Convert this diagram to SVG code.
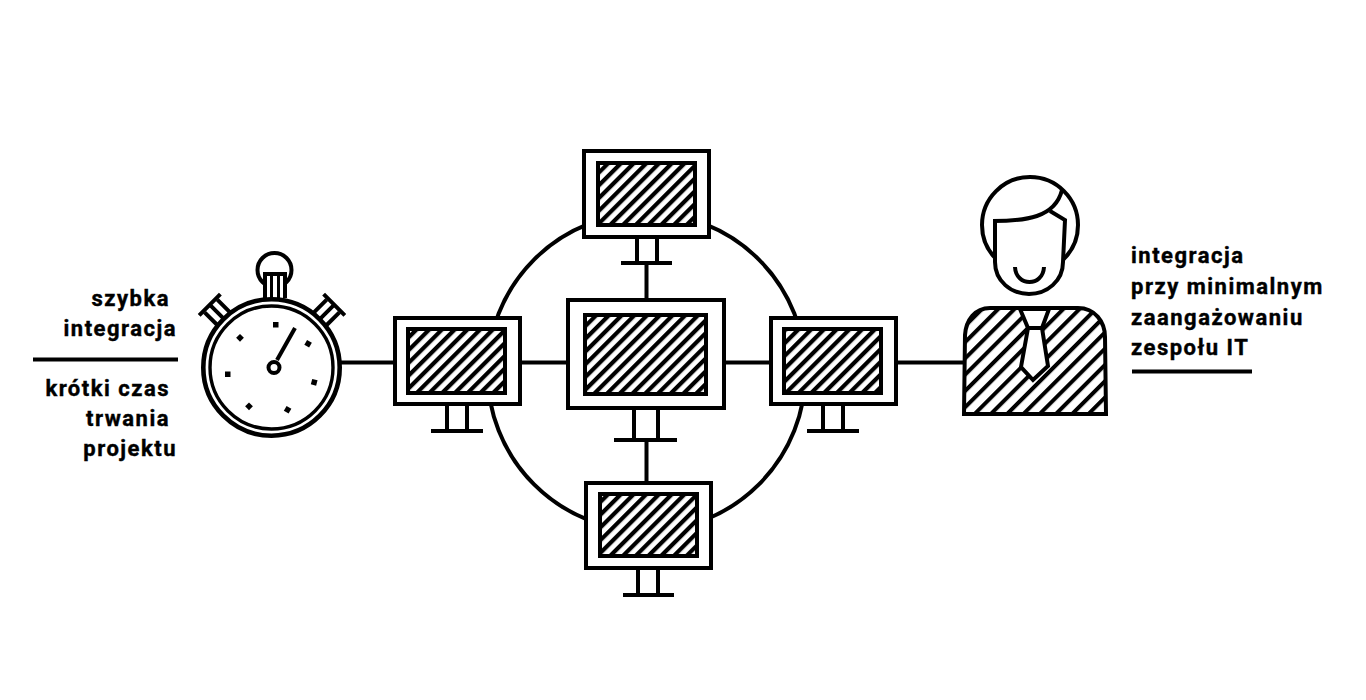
<svg xmlns="http://www.w3.org/2000/svg" width="1366" height="700" viewBox="0 0 1366 700">
<style>
.l{fill:none;stroke:#000;stroke-width:4}
.w{fill:#fff;stroke:#000;stroke-width:4}
.h{fill:url(#hatch);stroke:#000;stroke-width:4}
.t{font-family:"Roboto","Liberation Sans",sans-serif;font-weight:700;font-size:22px;letter-spacing:1.500px;fill:#000;stroke:#000;stroke-width:.4}
.e{text-anchor:end}
.k{fill:#000}
</style>
<defs>
<pattern id="hatch" width="9" height="9" patternUnits="userSpaceOnUse" patternTransform="translate(4.900 0) rotate(45)"><rect width="9" height="9" fill="#fff"/><rect width="4.200" height="9" fill="#000"/></pattern>
<pattern id="hatch2" width="11.500" height="11.500" patternUnits="userSpaceOnUse" patternTransform="translate(3.400 0) rotate(45)"><rect width="11.500" height="11.500" fill="#fff"/><rect width="4" height="11.500" fill="#000"/></pattern>
</defs>
<g id="connectors">
<circle class="l" cx="646.500" cy="372" r="159"/>
<path class="l" d="M341 362.500H393M521 362.500H568M725 362.500H769M897 362.500H963M646.500 263V298M646.500 440V481"/>
</g>
<g id="monitor-top">
<rect class="w" x="584" y="151" width="125" height="86"/><rect class="h" x="598" y="163" width="97" height="62"/>
<path class="l" d="M637 239V263M657 239V263M621 263H672"/>
</g>
<g id="monitor-center">
<rect class="w" x="568" y="300" width="156" height="108"/><rect class="h" x="585" y="315" width="121" height="79"/>
<path class="l" d="M634 410V440M658 410V440M614 440H677"/>
</g>
<g id="monitor-left">
<rect class="w" x="395" y="318" width="125" height="86"/><rect class="h" x="408" y="329" width="97" height="64"/>
<path class="l" d="M447 406V431M467 406V431M431 431H483"/>
</g>
<g id="monitor-right">
<rect class="w" x="771" y="318" width="125" height="86"/><rect class="h" x="784" y="329" width="97" height="64"/>
<path class="l" d="M823 406V431M843 406V431M807 431H859"/>
</g>
<g id="monitor-bottom">
<rect class="w" x="586" y="483" width="125" height="85"/><rect class="h" x="600" y="494" width="97" height="62"/>
<path class="l" d="M638 570V595M658 570V595M623 595H674"/>
</g>
<g id="stopwatch">
<circle class="l" cx="274.500" cy="270" r="17"/>
<path class="w" d="M265 298V274H285V298"/>
<path class="l" d="M271.500 276V298M278.500 276V298" style="stroke-width:3"/>
<g transform="rotate(-45 272 367)"><path class="l" d="M257 279H287M263 281V299M272 281V299M281 281V299"/></g>
<g transform="rotate(45 272 367)"><path class="l" d="M257 279H287M263 281V299M272 281V299M281 281V299"/></g>
<circle class="w" cx="271.500" cy="367.500" r="68.200" style="stroke-width:4.600"/>
<circle class="l" cx="271.500" cy="367.500" r="61.500" style="stroke-width:3.400"/>
<path class="l" d="M277 360L295 328"/>
<circle class="l" cx="274" cy="367.500" r="5.500"/>
<g class="k">
<rect x="273" y="322" width="5.500" height="5.500"/>
<rect x="237.500" y="335" width="5.500" height="5.500" transform="rotate(45 240 337.500)"/>
<rect x="305.500" y="341" width="5.500" height="5.500" transform="rotate(30 308 343.500)"/>
<rect x="225" y="371.500" width="5.500" height="5.500"/>
<rect x="311.500" y="379.500" width="5.500" height="5.500" transform="rotate(15 314 382)"/>
<rect x="246.500" y="403.500" width="5.500" height="5.500" transform="rotate(45 249 406)"/>
<rect x="285" y="407" width="5.500" height="5.500" transform="rotate(30 287.500 409.500)"/>
</g>
</g>
<g id="person">
<circle class="l" cx="1030" cy="225" r="48"/>
<path class="w" d="M995 221V262C995 281 1011 294 1029 294C1047 294 1063 281 1063 262L1065 220L1050 211"/>
<path class="l" d="M993 221C1025 221 1055 218 1062 190"/>
<path class="l" d="M1015 267C1016 287 1043 287 1044 267"/>
<path fill="url(#hatch2)" stroke="#000" stroke-width="4" d="M964 414L965 335C966 320 975 308 990 308H1078C1095 308 1105 322 1105 337L1106 414Z"/>
<path class="w" d="M1020 309L1028 328L1021 367L1033 380L1048 366L1042 328L1049 309Z"/>
<path class="l" d="M1028 328H1042"/>
</g>
<g id="text-left">
<text class="t e" x="170" y="306">szybka</text>
<text class="t e" x="177" y="336">integracja</text>
<path class="l" d="M33 359.500H178"/>
<text class="t e" x="170" y="396">krótki czas</text>
<text class="t e" x="170" y="426">trwania</text>
<text class="t e" x="177" y="456">projektu</text>
</g>
<g id="text-right">
<text class="t" x="1131" y="263">integracja</text>
<text class="t" x="1131" y="294">przy minimalnym</text>
<text class="t" x="1131" y="325">zaangażowaniu</text>
<text class="t" x="1131" y="355">zespołu IT</text>
<path class="l" d="M1132 371.500H1252"/>
</g>
</svg>
